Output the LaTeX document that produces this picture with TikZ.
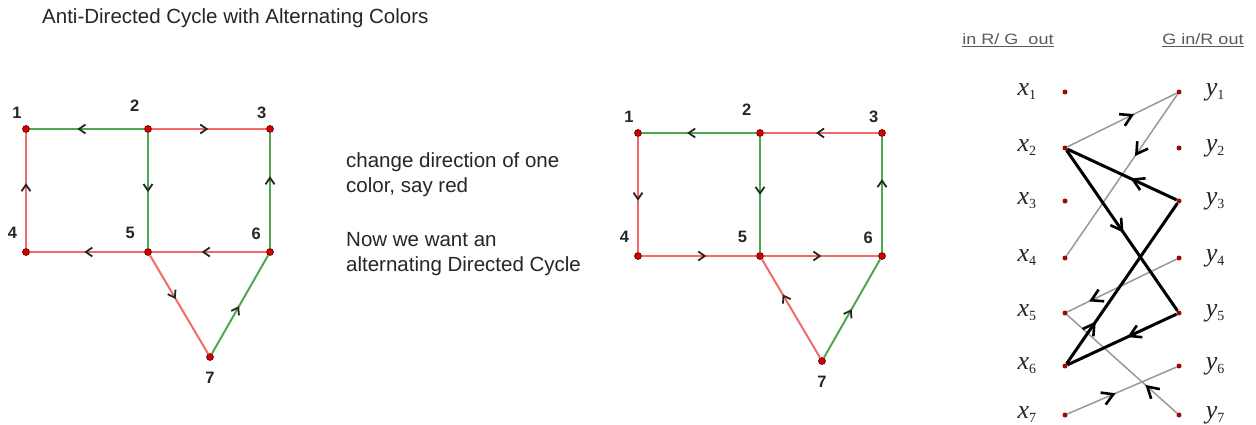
\documentclass[tikz,border=0pt]{standalone}
\usepackage[no-math]{fontspec}
\setmainfont{Liberation Sans}
\newfontfamily\labfont{Liberation Serif}
\usepackage{xcolor}
\usepackage{graphicx}
\usepackage{tikz}
\usetikzlibrary{decorations.markings}
\definecolor{edgered}{HTML}{F26B6B}
\definecolor{edgegreen}{HTML}{4FA84F}
\definecolor{dotred}{HTML}{D40000}
\definecolor{dotdark}{HTML}{5A0000}
\definecolor{dotright}{HTML}{9A0A0A}
% vertex label: italic letter with an upright index
\newcommand{\vlab}[2]{{\labfont\itshape #1}\raisebox{-4pt}{\labfont\fontsize{14}{14}\selectfont #2}}

\begin{document}
\begin{tikzpicture}[
    x=1pt, y=-1pt,
    vtx/.style={circle, fill=dotred, draw=dotdark, line width=0.6pt, inner sep=0pt, minimum size=7pt},
    num/.style={font=\fontsize{16.5}{16.5}\selectfont\bfseries, inner sep=1pt, text=black!85},
    dot/.style={circle, fill=dotright, inner sep=0pt, minimum size=5pt},
    mlbl/.style={font=\fontsize{26}{26}\selectfont, inner sep=0pt, text=black!85},
    redge/.style={edgered, line width=2pt},
    gedge/.style={edgegreen, line width=2pt},
    gline/.style={black!40, line width=1.5pt},
    kline/.style={black, line width=3pt},
    mid/.style={postaction={decorate}, decoration={markings,
        mark=at position #1 with {\draw[black!85, line width=1.8pt, solid]
            (-6.5pt,4.5pt) -- (0pt,0pt) -- (-6.5pt,-4.5pt);}}},
    big/.style={postaction={decorate}, decoration={markings,
        mark=at position #1 with {\draw[black, line width=2.6pt, solid]
            (-11pt,6.5pt) -- (0pt,0pt) -- (-11pt,-6.5pt);}}},
    title/.style={font=\fontsize{20.5}{24}\selectfont, text=black!85, inner sep=0pt, anchor=west},
    txt/.style={font=\fontsize{20.5}{25}\selectfont, text=black!85, align=left, inner sep=0pt, anchor=west},
    head/.style={font=\fontsize{15}{15}\selectfont, text=black!65, inner sep=0pt}
]
    \fill[white] (0,0) rectangle (1256,425);
    \useasboundingbox (0,0) rectangle (1256,425);

    \node[title] (title) at (42,18) {Anti-Directed Cycle with Alternating Colors};
    \node[txt] (note1) at (346,175) {change direction of one\\color, say red};
    \node[txt] (note2) at (346,254) {Now we want an\\alternating Directed Cycle};
    \node[head] (hin) at (1008,40) {\scalebox{1.2}[1]{\underline{in R/ G\ \ out}}};
    \node[head] (hout) at (1203,40) {\scalebox{1.2}[1]{\underline{G in/R out}}};

    % the two copies of the graph
    \foreach \n/\x/\y/\a/\d in {1/26/129/110/6pt, 2/148/129/115/14pt, 3/270/129/105/6pt,
        4/26/252/122/11pt, 5/148/252/135/13pt, 6/270/252/125/10pt, 7/210/357/270/10pt}{
        \node[vtx, label={[num, label distance=\d]\a:\n}] (a\n) at (\x,\y) {};
        \node[vtx, label={[num, label distance=\d]\a:\n}] (b\n) at (\x+612,\y+4) {};
    }

    \foreach \a/\b/\c/\p in {2/1/gedge/0.57, 2/3/redge/0.48, 2/5/gedge/0.5, 6/3/gedge/0.61,
        4/1/redge/0.55, 5/4/redge/0.51, 6/5/redge/0.55, 5/7/redge/0.43, 7/6/gedge/0.47}
        \draw[\c, mid=\p] (a\a) -- (a\b);

    \foreach \a/\b/\c/\p in {2/1/gedge/0.59, 3/2/redge/0.53, 2/5/gedge/0.49, 6/3/gedge/0.62,
        1/4/redge/0.54, 4/5/redge/0.55, 5/6/redge/0.49, 7/5/redge/0.63, 7/6/gedge/0.48}
        \draw[\c, mid=\p] (b\a) -- (b\b);

    % bipartite side
    \foreach \i/\y in {1/92, 2/148, 3/201, 4/258, 5/313, 6/366, 7/415}{
        \node[dot, label={[mlbl, label distance=26pt]180:\vlab{x}{\i}}] (x\i) at (1065,\y) {};
        \node[dot, label={[mlbl, label distance=24pt]0:\vlab{y}{\i}}] (y\i) at (1179,\y) {};
    }

    \foreach \a/\b/\p in {x2/y1/0.59, y1/x4/0.37, y4/x5/0.78, y7/x5/0.27, x7/y6/0.42}
        \draw[gline, big=\p] (\a) -- (\b);
    \foreach \a/\b/\p in {y3/x2/0.40, x2/y5/0.5, y5/x6/0.43, x6/y3/0.25}
        \draw[kline, big=\p] (\a) -- (\b);
\end{tikzpicture}
\end{document}
